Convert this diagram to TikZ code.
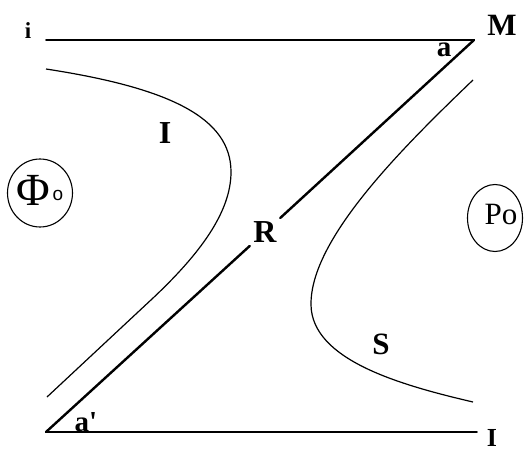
\documentclass[tikz,border=0pt]{standalone}
\usepackage{fontspec}
\setmainfont{Liberation Serif}
\newfontfamily\labsans{Liberation Sans}
\usetikzlibrary{shapes.geometric}
\begin{document}
\begin{tikzpicture}[x=1pt,y=-1pt,
  lab/.style={font=\bfseries\fontsize{#1}{#1}\selectfont, inner sep=0pt, anchor=center},
  lab/.default=26,
  edge/.style={line width=1.6pt, line cap=round},
  thick diag/.style={line width=2.4pt, line cap=round},
  curve/.style={line width=1.2pt},
  oval/.style={draw, ellipse, line width=1.1pt, inner sep=0pt}]
\useasboundingbox (0,0) rectangle (525,452);
\coordinate (TL) at (46,40);
\coordinate (TR) at (474,40);
\coordinate (BL) at (46,432);
\coordinate (BR) at (477,432);
% labels
\node[lab=23] (li) at (28,31) {i};
\node[lab=31] (lM) at (502,25) {M};
\node[lab=29] (la) at (444,50) {a};
\node[lab=29] (lap) at (86,422) {a\textquotesingle};
\node[lab=26] (lIb) at (492,438) {I};
\node[lab=32] (lIt) at (165,133) {I};
\node[lab=31] (lS) at (381,344) {S};
\node[lab=32, circle, minimum size=41pt] (R) at (265,232) {R};
% lines
\draw[edge] (TL) -- (TR);
\draw[edge] (BL) -- (BR);
\draw[thick diag] (TR) -- (R);
\draw[thick diag] (R) -- (BL);
% hyperbola branches
\draw[curve] (46,69) .. controls (170,88) and (231,118) .. (231,172)
  .. controls (231,212) and (200,254) .. (152,299) -- (47,397);
\draw[curve] (473,80) .. controls (400,150) and (310,240) .. (311,305)
  .. controls (312,360) and (400,385) .. (473,402);
% circled symbols
\node[oval, minimum width=65pt, minimum height=68pt] (phiov) at (40,193) {};
\node[inner sep=0pt, font=\fontsize{46}{46}\selectfont] (phi) at (33,190) {Φ};
\node[inner sep=0pt, font=\labsans\fontsize{19}{19}\selectfont] (phio) at (58,195) {o};
\node[oval, minimum width=55pt, minimum height=67pt] (poov) at (495,218) {};
\node[inner sep=0pt, font=\fontsize{31}{31}\selectfont] (po) at (501,215) {Po};
\end{tikzpicture}
\end{document}
